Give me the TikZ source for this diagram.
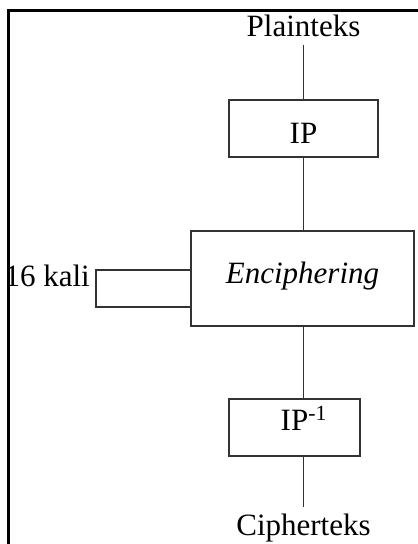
\documentclass[tikz,border=0pt]{standalone}
\usepackage{fontspec}
\setmainfont{Liberation Serif}
\begin{document}
\begin{tikzpicture}[x=1pt,y=-1pt,
  every node/.style={font=\fontsize{31}{36}\selectfont, text=black},
  blk/.style={draw=black!80, line width=1.3pt, inner sep=0pt},
  conn/.style={draw=black!80, line width=1.1pt},
  lbl/.style={inner sep=0pt}]
\useasboundingbox (0,0) rectangle (418,544);
\clip (0,0) rectangle (418,544);
% frame
\draw[line width=3pt] (8,560) -- (8,10.5) -- (430,10.5);
% nodes
\node[lbl, anchor=base, inner ysep=8pt] (plain) at (303.5,36) {Plainteks};
\node[blk, minimum width=149pt, minimum height=57pt, text height=29pt, text depth=0pt] (ip) at (303.5,128.5) {IP};
\node[blk, minimum width=223pt, minimum height=95pt, text height=9pt, text depth=0pt] (enc) at (302.5,278.5) {\itshape Enciphering};
\node[blk, minimum width=131pt, minimum height=57pt, text height=5pt, text depth=0pt] (ipinv) at (294.5,427.5) {IP\rlap{\textsuperscript{-1}}};
\node[lbl, anchor=base, inner ysep=6pt] (ciph) at (303.5,535) {Cipherteks};
\node[lbl, anchor=base east] (kali) at (90,286) {16 kali};
% loop
\coordinate (la) at (enc.west |- 0,270);
\coordinate (lb) at (enc.west |- 0,307);
\coordinate (lc) at (96,288);
\draw[conn, line width=1.3pt] (la) -| (lc) |- (lb);
% connectors
\draw[conn] (plain.south) -- (plain.south |- ip.north);
\draw[conn] (ip.south -| plain.south) -- (plain.south |- enc.north);
\draw[conn] (enc.south -| plain.south) -- (plain.south |- ipinv.north);
\draw[conn] (ipinv.south -| plain.south) -- (ciph.north);
\end{tikzpicture}
\end{document}
